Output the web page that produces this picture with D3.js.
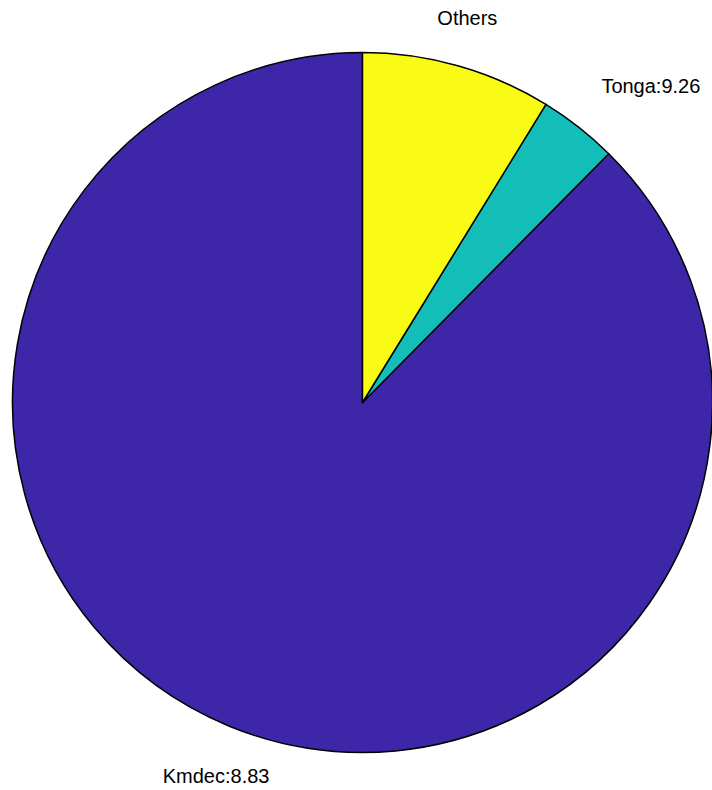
<!DOCTYPE html>
<html>
<head>
<meta charset="utf-8">
<script src="https://cdn.jsdelivr.net/npm/d3@7"></script>
<style>
  html, body { margin: 0; padding: 0; background: #fff; }
  svg { display: block; }
</style>
</head>
<body>
<script>
const categories = ["Kmdec", "Tonga", "Others"];
const values = [87.58, 3.64, 8.78];
const labels = ["Kmdec:8.83", "Tonga:9.26", "Others"];
const colors = ["#3e26a8", "#14beb8", "#f9fb15"];

const W = 712, H = 790;
const cx = 362.5, cy = 402.5, R = 350;

const svg = d3.select("body").append("svg").attr("width", W).attr("height", H);
const g = svg.append("g").attr("transform", `translate(${cx},${cy})`);

const data = categories.map((c, i) => ({ name: c, value: values[i], label: labels[i], color: colors[i] }));
const pie = d3.pie().sort(null).value(d => d.value).startAngle(0).endAngle(-2 * Math.PI);
const arcs = pie(data);
const arc = d3.arc().innerRadius(0).outerRadius(R);

g.selectAll("path.slice").data(arcs).join("path")
  .attr("class", "slice")
  .attr("d", arc)
  .attr("fill", d => d.data.color)
  .attr("stroke", "#000")
  .attr("stroke-width", 1.5)
  .attr("stroke-linejoin", "round");

const LR = R * 1.1;
g.selectAll("text.lbl").data(arcs).join("text")
  .attr("class", "lbl")
  .each(function (d) {
    const a = (d.startAngle + d.endAngle) / 2;
    const s = Math.sin(a), c = Math.cos(a);
    let x = LR * s, y = -LR * c;
    let anchor = "middle";
    if (Math.abs(s) > 0.5) { anchor = s > 0 ? "start" : "end"; x += s > 0 ? 1 : -1; }
    y += c > 0 ? -7 : 24;
    d3.select(this).attr("x", x).attr("y", y).attr("text-anchor", anchor);
  })
  .attr("font-family", "'Liberation Sans', Arial, sans-serif")
  .attr("font-size", 20)
  .attr("fill", "#000")
  .text(d => d.data.label);
</script>
</body>
</html>
